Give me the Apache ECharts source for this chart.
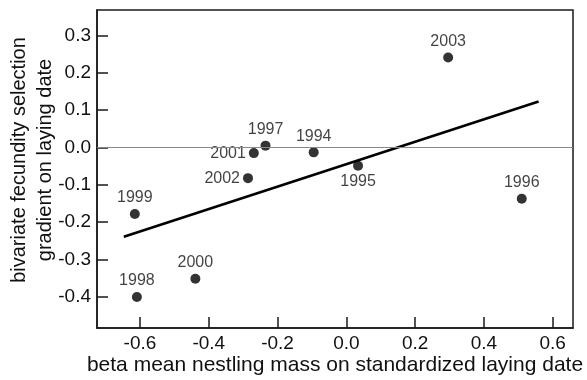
<!DOCTYPE html>
<html><head><meta charset="utf-8">
<script src="https://cdn.jsdelivr.net/npm/echarts@6/dist/echarts.min.js"></script>
<style>html,body{margin:0;padding:0;background:#fff}#c{width:587px;height:380px}</style>
</head><body><div id="c"></div>
<script>
const years = ['1994','1995','1996','1997','1998','1999','2000','2001','2002','2003'];
const xVals = [-0.095, 0.034, 0.510, -0.235, -0.609, -0.615, -0.439, -0.269, -0.286, 0.296];
const yVals = [-0.013, -0.049, -0.137, 0.005, -0.400, -0.178, -0.351, -0.015, -0.082, 0.241];
const fitX = [-0.647, 0.559];
const fitY = [-0.239, 0.123];
const xTicks = [-0.6, -0.4, -0.2, 0.0, 0.2, 0.4, 0.6];
const yTicks = [-0.4, -0.3, -0.2, -0.1, 0.0, 0.1, 0.2, 0.3];

const leftLabels = {'2001': 1, '2002': 1};
const bottomLabels = {'1995': 1};
const pts = years.map((y, i) => ({
  value: [xVals[i], yVals[i]],
  name: y,
  label: { position: leftLabels[y] ? 'left' : (bottomLabels[y] ? 'bottom' : 'top') }
}));

const font = 'Liberation Sans, Arial, Helvetica, sans-serif';
const ink = '#111';
const chart = echarts.init(document.getElementById('c'));
chart.setOption({
  animation: false,
  grid: { left: 97, top: 10, right: 14, bottom: 52, show: true, borderColor: '#1a1a1a', borderWidth: 1.5, backgroundColor: 'transparent', outerBoundsMode: 'none', containLabel: false },
  xAxis: {
    type: 'value', min: -0.725, max: 0.659,
    name: 'beta mean nestling mass on standardized laying date',
    nameLocation: 'middle', nameGap: 27, nameMoveOverlap: false,
    nameTextStyle: { fontFamily: font, fontSize: 21, color: ink },
    axisLine: { show: true, onZero: false, lineStyle: { color: '#1a1a1a', width: 1.5 } },
    axisTick: { show: true, inside: true, length: 11, customValues: xTicks, lineStyle: { color: '#1a1a1a', width: 1.5 } },
    axisLabel: { customValues: xTicks, formatter: v => v.toFixed(1), fontFamily: font, fontSize: 19, color: ink, margin: 6 },
    splitLine: { show: false }
  },
  yAxis: {
    type: 'value', min: -0.483, max: 0.368,
    name: 'bivariate fecundity selection\ngradient on laying date',
    nameLocation: 'middle', nameGap: 39, nameRotate: 90, nameMoveOverlap: false,
    nameTextStyle: { fontFamily: font, fontSize: 20, color: ink, lineHeight: 26, padding: [0, 0, 0, 18] },
    axisLine: { show: true, onZero: false, lineStyle: { color: '#1a1a1a', width: 1.5 } },
    axisTick: { show: true, inside: true, length: 11, customValues: yTicks, lineStyle: { color: '#1a1a1a', width: 1.5 } },
    axisLabel: { customValues: yTicks, formatter: v => v.toFixed(1), fontFamily: font, fontSize: 19, color: ink, margin: 6 },
    splitLine: { show: false }
  },
  series: [
    {
      type: 'line', data: fitX.map((x, i) => [x, fitY[i]]), symbol: 'none',
      lineStyle: { color: '#000', width: 2.6 }, z: 3,
      markLine: {
        silent: true, symbol: 'none', label: { show: false },
        lineStyle: { color: '#888', width: 1, type: 'solid' },
        data: [{ yAxis: 0 }]
      }
    },
    {
      type: 'scatter', data: pts, symbolSize: 10,
      itemStyle: { color: '#000' }, z: 4,
      label: { show: true, formatter: p => p.name, fontFamily: font, fontSize: 16, color: ink, distance: 3 }
    }
  ]
});
</script></body></html>
